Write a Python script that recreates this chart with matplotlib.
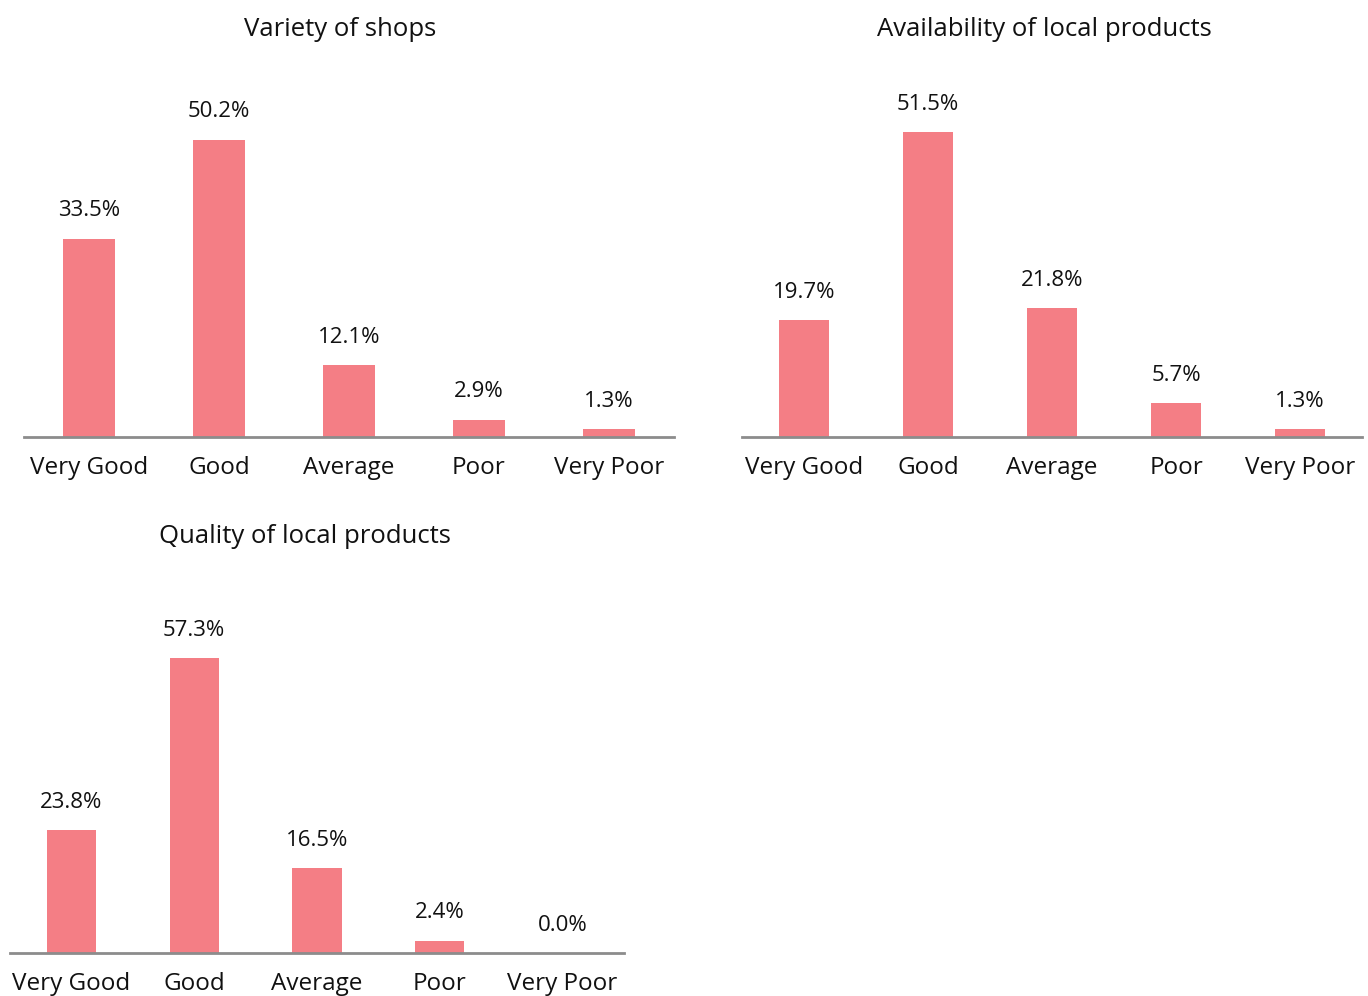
import matplotlib
matplotlib.use("Agg")
import matplotlib.pyplot as plt

plt.rcParams['font.family'] = ['Open Sans', 'DejaVu Sans']

categories = ["Very Good", "Good", "Average", "Poor", "Very Poor"]
variety_values = [33.5, 50.2, 12.1, 2.9, 1.3]
availability_values = [19.7, 51.5, 21.8, 5.7, 1.3]
quality_values = [23.8, 57.3, 16.5, 2.4, 0.0]
titles = ["Variety of shops", "Availability of local products", "Quality of local products"]

BAR = "#F47E85"
AXIS = "#8C8C8C"
W, H = 1368, 996

fig = plt.figure(figsize=(W / 100, H / 100), dpi=100)


def px_axes(x0, x1, base_y, ymax, px_per_unit):
    height = ymax * px_per_unit
    return fig.add_axes([x0 / W, (H - base_y) / H, (x1 - x0) / W, height / H])


def draw(ax, values, ymax, title, title_xy):
    x = range(len(categories))
    ax.bar(x, values, width=0.4, color=BAR)
    ax.set_xlim(-0.5, len(categories) - 0.5)
    ax.set_ylim(0, ymax)
    for s in ["top", "right", "left"]:
        ax.spines[s].set_visible(False)
    ax.spines["bottom"].set_color(AXIS)
    ax.spines["bottom"].set_linewidth(2)
    ax.set_yticks([])
    ax.set_xticks(list(x))
    ax.set_xticklabels(categories, fontsize=17.5, color="#111111")
    ax.tick_params(axis="x", length=0, pad=14)
    for i, v in enumerate(values):
        ax.annotate(f"{v:.1f}%", (i, v), xytext=(0, 12.5), textcoords="offset points",
                    ha="center", va="bottom", fontsize=16, color="#111111")
    fig.text(title_xy[0] / W, 1 - title_xy[1] / H, title, ha="center", va="center",
             fontsize=18.5, color="#111111")


ax1 = px_axes(24, 674, 437, 60, 5.92)
draw(ax1, variety_values, 60, titles[0], (340, 29))

ax2 = px_axes(742, 1362, 437, 60, 5.92)
draw(ax2, availability_values, 60, titles[1], (1044, 29))

ax3 = px_axes(10, 624, 953, 70, 5.15)
draw(ax3, quality_values, 70, titles[2], (305, 536))

fig.savefig("out.png", dpi=100)
